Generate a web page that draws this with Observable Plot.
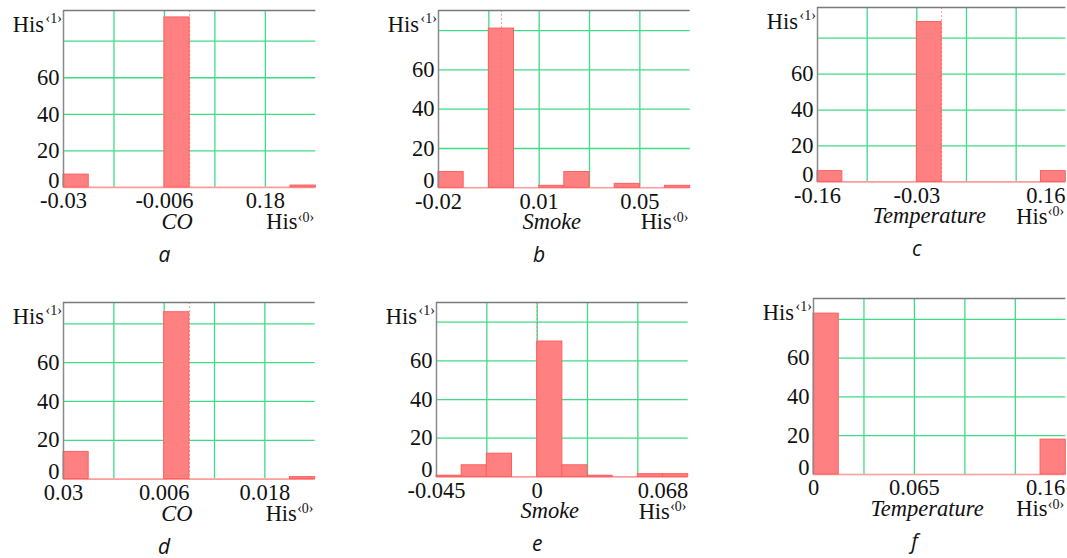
<!DOCTYPE html>
<html>
<head>
<meta charset="utf-8">
<script src="https://cdn.jsdelivr.net/npm/d3@7"></script>
<script src="https://cdn.jsdelivr.net/npm/@observablehq/plot@0.6"></script>
<style>
  html, body { margin: 0; padding: 0; background: #fff; overflow: hidden; }
  #wrap { position: relative; width: 1067px; height: 558px; }
  .cell { position: absolute; }
  .cell svg { max-width: none !important; overflow: visible; }
</style>
</head>
<body>
<div id="wrap"></div>
<script>
// ---------- data ----------
const binIndex = [0, 1, 2, 3, 4, 5, 6, 7, 8, 9];

const countsA = [7, 0, 0, 0, 93, 0, 0, 0, 0, 1];    // CO
const countsB = [8, 0, 81, 0, 1, 8, 0, 2, 0, 1];    // Smoke
const countsC = [6, 0, 0, 0, 89, 0, 0, 0, 0, 6];    // Temperature
const countsD = [14, 0, 0, 0, 86, 0, 0, 0, 0, 1];   // CO
const countsE = [0.6, 6, 12, 0, 70, 6, 0.6, 0, 1.4, 1.4]; // Smoke
const countsF = [83, 0, 0, 0, 0, 0, 0, 0, 0, 18];   // Temperature

const tickPosA = [0, 4, 8];   const tickLabA = ["-0.03", "-0.006", "0.18"];
const tickPosB = [0, 4, 8];   const tickLabB = ["-0.02", "0.01", "0.05"];
const tickPosC = [0, 4, 9.2]; const tickLabC = ["-0.16", "-0.03", "0.16"];
const tickPosD = [0, 4, 8];   const tickLabD = ["0.03", "0.006", "0.018"];
const tickPosE = [0, 4, 9];   const tickLabE = ["-0.045", "0", "0.068"];
const tickPosF = [0, 4, 9.2]; const tickLabF = ["0", "0.065", "0.16"];

const yTicks = [20, 40, 60];
const yGrid = [20, 40, 60, 80];
const xGrid = [2, 4, 6, 8];
const yMax = [96.8, 90.2, 97.1, 91, 90.2, 90.8];
const markerX = [[5], [2.5], [5], [5], [4], []];

const axisNames = ["CO", "Smoke", "Temperature", "CO", "Smoke", "Temperature"];
const panelLetters = ["a", "b", "c", "d", "e", "f"];

// ---------- layout (plot frame in page pixels) ----------
const frames = [
  {L: 62.7,  T: 10.4,  W: 252.3, H: 176.9},
  {L: 438.3, T: 10.0,  W: 251.7, H: 177.3},
  {L: 816.7, T: 7.3,   W: 248.3, H: 174.4},
  {L: 63.3,  T: 301.7, W: 251.7, H: 176.6},
  {L: 436.0, T: 302.3, W: 251.7, H: 174.4},
  {L: 812.7, T: 298.3, W: 252.3, H: 176.0}
];
const counts = [countsA, countsB, countsC, countsD, countsE, countsF];
const tickPos = [tickPosA, tickPosB, tickPosC, tickPosD, tickPosE, tickPosF];
const tickLab = [tickLabA, tickLabB, tickLabC, tickLabD, tickLabE, tickLabF];

const GRID = "#3fdc86";
const SERIF = "'Liberation Serif', 'Times New Roman', Times, serif";
const SANS = "'Open Sans', 'Liberation Sans', sans-serif";
const FS = 22.5, SUP = 14;
const mL = 70, mR = 10, mT = 12, mB = 88;

const wrap = document.getElementById("wrap");

for (let i = 0; i < 6; i++) {
  const f = frames[i];
  const width = mL + f.W + mR;
  const height = mT + f.H + mB;
  const data = binIndex.map((b, k) => ({b, c: counts[i][k]})).filter(d => d.c > 0);
  const labMap = new Map(tickPos[i].map((p, k) => [p, tickLab[i][k]]));

  const plot = Plot.plot({
    width, height,
    marginLeft: mL, marginRight: mR, marginTop: mT, marginBottom: mB,
    x: {domain: [0, 10], axis: null},
    y: {domain: [0, yMax[i]], axis: null},
    style: {fontFamily: SERIF, fontSize: FS + "px", color: "#111", background: "transparent", overflow: "visible"},
    marks: [
      Plot.gridX(xGrid, {stroke: GRID, strokeOpacity: 1, strokeWidth: 1.3}),
      Plot.gridY(yGrid, {stroke: GRID, strokeOpacity: 1, strokeWidth: 1.3}),
      Plot.ruleY([0], {stroke: "#ff9c9c", strokeWidth: 1.6}),
      Plot.rect(data, {x1: "b", x2: d => d.b + 1, y1: 0, y2: "c", fill: "#ff8080", stroke: "#ff5e5e", strokeWidth: 1}),
      Plot.ruleX(markerX[i], {stroke: "#ff6a6a", strokeWidth: 1, strokeDasharray: "2,2", strokeOpacity: 0.75}),
      Plot.ruleX([0], {stroke: "#8a8a8a", strokeWidth: 1.5}),
      Plot.ruleY([yMax[i]], {stroke: "#7a7a7a", strokeWidth: 1.5}),
      Plot.axisY({ticks: yTicks, label: null, tickSize: 0, tickPadding: 4, fontSize: FS}),
      Plot.axisY({ticks: [0], label: null, tickSize: 0, tickPadding: 4, dy: -7, fontSize: FS}),
      Plot.axisX({ticks: tickPos[i], label: null, tickFormat: d => labMap.get(d), tickSize: 0, tickPadding: 5, fontSize: FS}),
      // y axis name His<1>
      Plot.text(["His"], {text: d => d, frameAnchor: "top-left", textAnchor: "end", lineAnchor: "bottom", dx: -19.4, dy: 21.9, fontSize: FS, fontFamily: SERIF}),
      Plot.text(["\u20391\u203A"], {text: d => d, frameAnchor: "top-left", textAnchor: "end", lineAnchor: "bottom", dx: -1.7, dy: 12.9, fontSize: SUP, fontFamily: SERIF}),
      // x axis name
      Plot.text([axisNames[i]], {text: d => d, x: 4.5, frameAnchor: "bottom", lineAnchor: "bottom", dy: 41.5, fontSize: FS, fontFamily: SERIF, fontStyle: "italic"}),
      // His<0>
      Plot.text(["His"], {text: d => d, frameAnchor: "bottom-right", textAnchor: "end", lineAnchor: "bottom", dx: -18.3, dy: 41.7, fontSize: FS, fontFamily: SERIF}),
      Plot.text(["\u20390\u203A"], {text: d => d, frameAnchor: "bottom-right", textAnchor: "end", lineAnchor: "bottom", dx: -1.7, dy: 34.4, fontSize: SUP, fontFamily: SERIF}),
      // panel letter
      Plot.text([panelLetters[i]], {text: d => d, x: 4, frameAnchor: "bottom", lineAnchor: "bottom", dy: 74.5, fontSize: 21, fontFamily: SANS, fontStyle: "italic"})
    ]
  });

  const cell = document.createElement("div");
  cell.className = "cell";
  cell.style.left = (f.L - mL) + "px";
  cell.style.top = (f.T - mT) + "px";
  cell.appendChild(plot);
  wrap.appendChild(cell);
}
</script>
</body>
</html>
